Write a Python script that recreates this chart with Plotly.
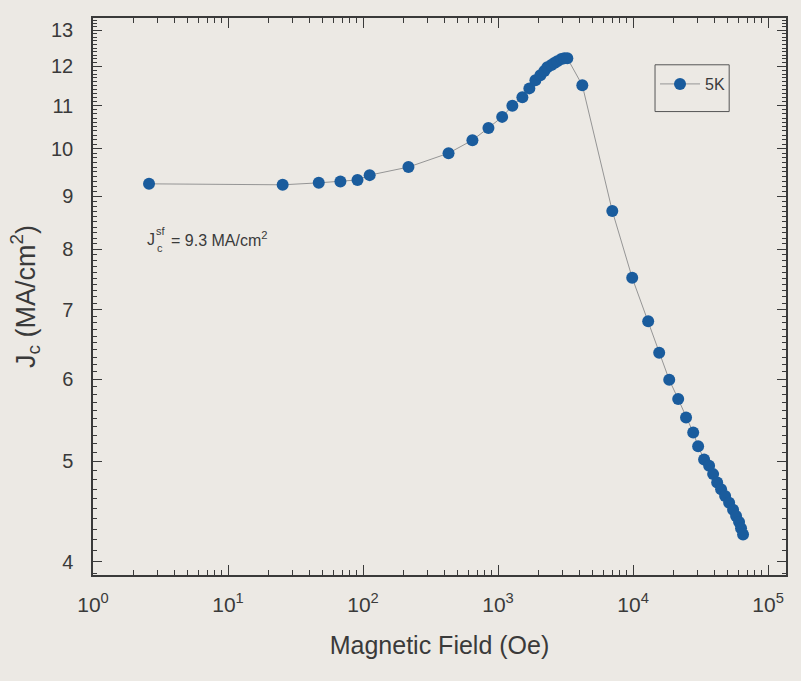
import numpy as np
import plotly.graph_objects as go

# Data
field_oe = [2.6, 25.4, 47, 68, 91, 112, 217, 430, 646, 849, 1073, 1277, 1515, 1706,
            1892, 2059, 2205, 2318, 2483, 2613, 2748, 2944, 3098, 3260,
            4210, 7020, 9860, 12950, 15620, 18540, 21600, 24700, 27900, 30350, 33600,
            36600, 39200, 42000, 44900, 48100, 51500, 55100, 58000, 61000, 63100, 65300]
jc_ma = [9.25, 9.23, 9.27, 9.30, 9.33, 9.43, 9.60, 9.90, 10.19, 10.47, 10.73, 11.00, 11.21, 11.43,
         11.64, 11.77, 11.88, 11.98, 12.04, 12.09, 12.14, 12.20, 12.22, 12.22,
         11.51, 8.71, 7.51, 6.82, 6.36, 5.99, 5.74, 5.51, 5.33, 5.17, 5.02,
         4.95, 4.86, 4.77, 4.70, 4.63, 4.56, 4.49, 4.43, 4.37, 4.31, 4.25]
series_name = "5K"

y_tick_vals = [4, 5, 6, 7, 8, 9, 10, 11, 12, 13]
x_tick_vals = [1, 10, 100, 1000, 10000, 100000]
x_tick_text = ["10<sup>0</sup>", "10<sup>1</sup>", "10<sup>2</sup>", "10<sup>3</sup>",
               "10<sup>4</sup>", "10<sup>5</sup>"]

bg = "#ece9e4"
axis_col = "#3a3a3a"
txt_col = "#3a3a3a"
font_family = "Liberation Sans, Arial, sans-serif"

x_minor = [m * 10 ** d for d in range(0, 5) for m in range(2, 10)]
y_minor = [round(v, 1) for v in np.arange(3.9, 13.45, 0.1) if abs(v - round(v)) > 1e-6]

fig = go.Figure()
fig.add_trace(go.Scatter(
    x=field_oe, y=jc_ma, mode="lines+markers", name=series_name,
    line=dict(color="#959595", width=1),
    marker=dict(color="#1a5c9d", size=12, line=dict(width=0)),
))

fig.update_layout(
    width=801, height=681,
    paper_bgcolor=bg, plot_bgcolor=bg,
    margin=dict(l=93, r=15, t=18, b=106),
    font=dict(family=font_family, color=txt_col),
    showlegend=True,
    legend=dict(x=0.811, y=0.912, xanchor="left", yanchor="top",
                bgcolor="rgba(0,0,0,0)", borderwidth=0, itemwidth=40,
                font=dict(size=16, color=txt_col)),
    xaxis=dict(
        type="log", range=[0, 5.133],
        tickvals=x_tick_vals, ticktext=x_tick_text,
        ticks="inside", ticklen=10, tickwidth=1.2, tickcolor=axis_col,
        minor=dict(tickvals=x_minor, ticks="inside", ticklen=5, tickcolor=axis_col, tickwidth=1),
        showline=True, linecolor=axis_col, linewidth=1.5, mirror="ticks",
        showgrid=False, zeroline=False,
        tickfont=dict(size=21, color=txt_col),
        ticklabelstandoff=10,
        title=dict(text="Magnetic Field (Oe)", font=dict(size=25, color=txt_col), standoff=22),
    ),
    yaxis=dict(
        type="log", range=[np.log10(3.886), np.log10(13.36)],
        tickvals=y_tick_vals, ticktext=[str(v) for v in y_tick_vals],
        ticks="inside", ticklen=9, tickwidth=1.2, tickcolor=axis_col,
        minor=dict(tickvals=y_minor, ticks="inside", ticklen=4, tickcolor=axis_col, tickwidth=1),
        showline=True, linecolor=axis_col, linewidth=1.5, mirror="ticks",
        showgrid=False, zeroline=False,
        tickfont=dict(size=20, color=txt_col),
        ticklabelstandoff=14,
        title=dict(text="J<sub>c</sub> (MA/cm<sup>2</sup>)", font=dict(size=27, color=txt_col), standoff=8),
    ),
    shapes=[dict(type="rect", xref="paper", yref="paper",
                 x0=0.811, x1=0.918, y0=0.832, y1=0.916,
                 line=dict(color="#555555", width=1), fillcolor="rgba(0,0,0,0)")],
    annotations=[
        dict(xref="paper", yref="paper", x=0.075, y=0.603, xanchor="left", yanchor="middle",
             showarrow=False, text="J", font=dict(size=16, color=txt_col)),
        dict(xref="paper", yref="paper", x=0.088, y=0.618, xanchor="left", yanchor="middle",
             showarrow=False, text="sf", font=dict(size=11, color=txt_col)),
        dict(xref="paper", yref="paper", x=0.089, y=0.587, xanchor="left", yanchor="middle",
             showarrow=False, text="c", font=dict(size=11, color=txt_col)),
        dict(xref="paper", yref="paper", x=0.109, y=0.603, xanchor="left", yanchor="middle",
             showarrow=False, text="= 9.3 MA/cm<sup>2</sup>", font=dict(size=16, color=txt_col)),
    ],
)

fig.write_html("out.html", config={"displayModeBar": False})
with open("out.html", "r", encoding="utf-8") as f:
    html = f.read()
html = html.replace("<head>", "<head><style>html,body{margin:0;padding:0;overflow:hidden;}</style>", 1)
with open("out.html", "w", encoding="utf-8") as f:
    f.write(html)
